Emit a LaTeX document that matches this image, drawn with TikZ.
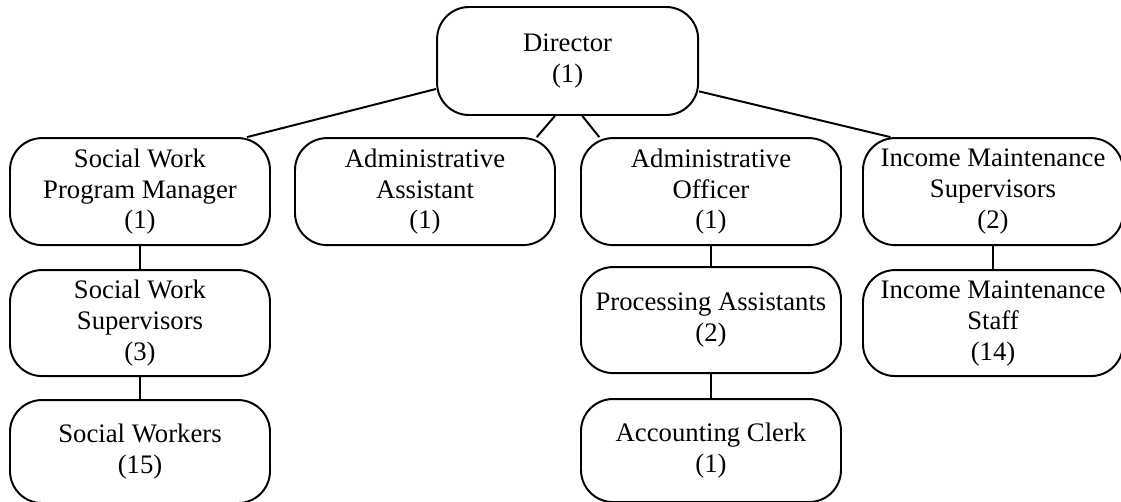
\documentclass[tikz,border=0pt]{standalone}
\usepackage{fontspec}
\setmainfont{Liberation Serif}
\usepackage{tikz}
\usetikzlibrary{positioning}

\tikzset{
  post/.style={draw, line width=1.4pt, rounded corners=0.8cm, minimum width=6.5cm,
    minimum height=2.675cm, align=center, inner sep=2pt,
    font=\fontsize{19}{22}\selectfont},
  link/.style={line width=1.4pt}
}

\begin{document}
\begin{tikzpicture}
\useasboundingbox (0,0) rectangle (28.025,-12.525);
% top of the chart
\node[post, minimum width=6.525cm, minimum height=2.7cm] (dir) at (14.19,-1.525) {Director\\(1)};
% first row
\node[post] (swpm) at (3.5,-4.79) {Social Work\\Program Manager\\(1)};
\node[post] (aa) at (10.625,-4.79) {Administrative\\Assistant\\(1)};
\node[post] (ao) at (17.775,-4.79) {Administrative\\Officer\\(1)};
\node[post] (ims) at (24.825,-4.79) {Income Maintenance\\Supervisors\\(2)};
% lower rows
\node[post, minimum height=2.65cm, below=0.575cm of swpm] (sws) {Social Work\\Supervisors\\(3)};
\node[post, minimum height=2.575cm, below=0.55cm of sws] (sw) {Social Workers\\(15)};
\node[post, minimum height=2.65cm, below=0.5cm of ao] (pa) {Processing Assistants\\(2)};
\node[post, minimum height=2.575cm, below=0.6cm of pa] (ac) {Accounting Clerk\\(1)};
\node[post, minimum height=2.65cm, below=0.575cm of ims] (imst) {Income Maintenance\\Staff\\(14)};
% connectors
\draw[link] (dir.192) -- (swpm.27);
\draw[link] (dir.257) -- (aa.26);
\draw[link] (dir.285) -- (ao.154);
\draw[link] (dir.347) -- (ims.152);
\foreach \a/\b in {swpm/sws, sws/sw, ao/pa, pa/ac, ims/imst} {
    \draw[link] (\a) -- (\b);
}
\end{tikzpicture}
\end{document}
